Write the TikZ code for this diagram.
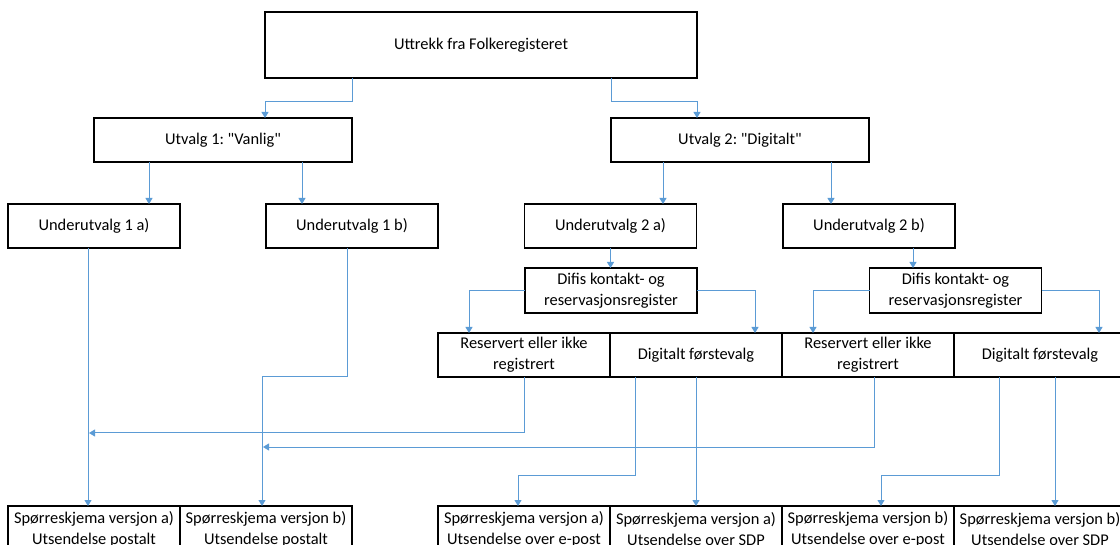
\documentclass[tikz,border=0pt]{standalone}
\usepackage{fontspec}
\setmainfont{Carlito}
\usetikzlibrary{arrows.meta, positioning}
\definecolor{linkblue}{RGB}{91,155,213}
\frenchspacing

\begin{document}
\begin{tikzpicture}[x=1pt, y=-1pt, node distance=0pt and 0pt,
		every node/.style={draw, line width=1.6pt, inner sep=0pt, outer sep=0pt, align=center, font=\fontsize{16.4}{21}\selectfont},
		box/.style={minimum width=172pt, minimum height=44pt},
		wide/.style={minimum width=258pt, minimum height=44pt},
		low/.style={box, minimum height=46pt},
		arr/.style={draw=linkblue, line width=1pt, -{Triangle[length=6pt,width=7pt]}}]
	\useasboundingbox (0,0) rectangle (1120,545);
	\clip (0,0) rectangle (1120,545);
	\node[line width=2.4pt, minimum width=432pt, minimum height=66pt] (uttrekk) at (481,45) {Uttrekk fra Folkeregisteret};
	\node[wide] (utvalg1) at (223,140) {Utvalg 1: \textquotedbl Vanlig\textquotedbl};
	\node[wide] (utvalg2) at (740,140) {Utvalg 2: \textquotedbl Digitalt\textquotedbl};
	\node[box] (under1a) at (94,226) {Underutvalg 1 a)};
	\node[box] (under1b) at (352,226) {Underutvalg 1 b)};
	\node[box] (under2a) at (610.5,226) {Underutvalg 2 a)};
	\node[box] (under2b) at (869,226) {Underutvalg 2 b)};
	\node[box, minimum height=45pt] (difis1) at (611,290.5) {Difis kontakt- og\\reservasjonsregister};
	\node[box, minimum height=45pt] (difis2) at (955.5,290.5) {Difis kontakt- og\\reservasjonsregister};
	\node[box] (reserv1) at (524,355) {Reservert eller ikke\\registrert};
	\node[box, right=of reserv1] (digital1) {Digitalt førstevalg};
	\node[box, right=of digital1] (reserv2) {Reservert eller ikke\\registrert};
	\node[box, right=of reserv2] (digital2) {Digitalt førstevalg};
	\node[low] (skjema1) at (94,529) {Spørreskjema versjon a)\\Utsendelse postalt};
	\node[low, right=of skjema1] (skjema2) {Spørreskjema versjon b)\\Utsendelse postalt};
	\node[low] (skjema3) at (524,529) {Spørreskjema versjon a)\\Utsendelse over e-post};
	\node[low, right=of skjema3] (skjema4) {Spørreskjema versjon a)\\Utsendelse over SDP};
	\node[low, right=of skjema4] (skjema5) {Spørreskjema versjon b)\\Utsendelse over e-post};
	\node[low, right=of skjema5] (skjema6) {Spørreskjema versjon b)\\Utsendelse over SDP};
	% levels of the return lines
	\coordinate (lvlA) at (0,433);
	\coordinate (lvlB) at (0,447);
	\coordinate (lvlC) at (0,475);

	\draw[arr] (uttrekk.south -| utvalg1.east) -- ++(0,24) -| ([xshift=42pt]utvalg1.north);
	\draw[arr] (uttrekk.south -| utvalg2.west) -- ++(0,24) -| ([xshift=-43pt]utvalg2.north);
	\foreach \shift/\from/\to in {-74/utvalg1/under1a, 79/utvalg1/under1b, -77/utvalg2/under2a, 91/utvalg2/under2b}
		\draw[arr] ([xshift=\shift pt]\from.south) -- ([xshift=\shift pt]\from.south |- \to.north);
	\draw[arr] (under2a.south) -- (under2a.south |- difis1.north);
	\draw[arr] ([xshift=44pt]under2b.south) -- ([xshift=44pt]under2b.south |- difis2.north);
	\foreach \n in {1,2} {
		\draw[arr] (difis\n.west) -| ([xshift=-55pt]reserv\n.north);
		\draw[arr] (difis\n.east) -| ([xshift=59pt]digital\n.north);
	}
	\draw[arr] ([xshift=-6pt]under1a.south) -- ([xshift=-6pt]under1a.south |- skjema1.north);
	\draw[arr] ([xshift=-5pt]under1b.south) -- ([xshift=-5pt]under1b.south |- reserv1.south) -| ([xshift=-4pt]skjema2.north);
	\draw[arr] (reserv1.south) |- ([xshift=-5pt]under1a.south |- lvlA);
	\draw[arr] ([xshift=6pt]reserv2.south) |- ([xshift=-3pt]skjema2.north |- lvlB);
	\foreach \n/\left/\right/\dx/\tx/\sx in {1/skjema3/skjema4/-61/-6/0, 2/skjema5/skjema6/-41/13/15} {
		\draw[arr] ([xshift=\dx pt]digital\n.south) -- ([xshift=\dx pt]digital\n.south |- lvlC) -| ([xshift=\tx pt]\left.north);
		\draw[arr] ([xshift=\sx pt]digital\n.south) -- ([xshift=\sx pt]\right.north);
	}
\end{tikzpicture}
\end{document}
